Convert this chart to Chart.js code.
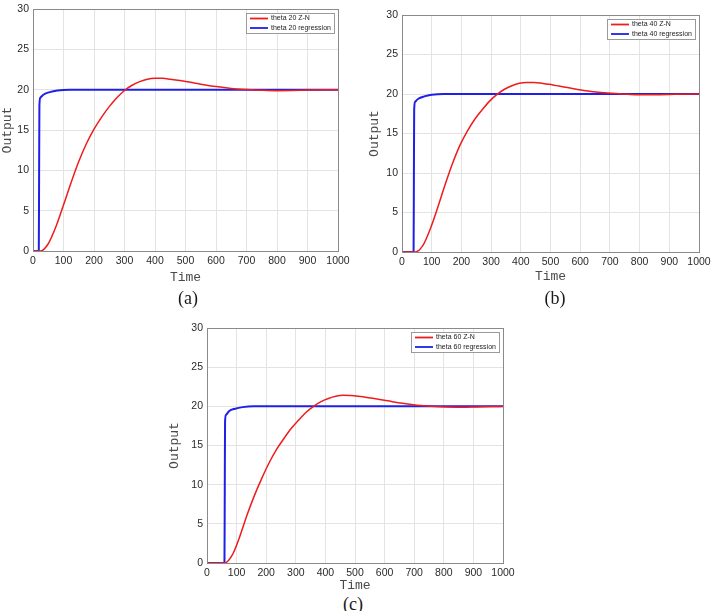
<!DOCTYPE html>
<html>
<head>
<meta charset="utf-8">
<script src="https://cdn.jsdelivr.net/npm/chart.js@4"></script>
<style>
  body { margin: 0; background: #fff; width: 714px; height: 611px; position: relative; overflow: hidden; }
  canvas { position: absolute; }
  .cap { position: absolute; font-family: "Liberation Serif", "Times New Roman", serif; font-size: 18px; line-height: 18px; color: #1a1a1a; transform: translate(-50%, -50%); }
</style>
</head>
<body>
<canvas id="chartA" width="354" height="285" style="left:0;top:0"></canvas>
<canvas id="chartB" width="354" height="284" style="left:360px;top:0"></canvas>
<canvas id="chartC" width="360" height="293" style="left:160px;top:300px"></canvas>
<div class="cap" style="left:188px;top:298px">(a)</div>
<div class="cap" style="left:555px;top:298px">(b)</div>
<div class="cap" style="left:353px;top:604px">(c)</div>
<script>
// tick labels
var xTicks = [0, 100, 200, 300, 400, 500, 600, 700, 800, 900, 1000]
var yTicks = [0, 5, 10, 15, 20, 25, 30]

// (a) theta 20
var timeZN20 = [0, 25, 50, 75, 100, 125, 150, 175, 200, 225, 250, 275, 300, 325, 350, 375, 400, 425, 450, 475, 500, 525, 550, 600, 650, 700, 750, 800, 850, 900, 1000]
var outZN20  = [0, 0, 0.9, 3.0, 5.7, 8.5, 11.1, 13.3, 15.1, 16.6, 17.9, 19.0, 19.9, 20.55, 21.0, 21.3, 21.4, 21.4, 21.3, 21.17, 21.02, 20.85, 20.68, 20.38, 20.15, 20.02, 19.93, 19.88, 19.9, 19.95, 20]
var timeReg20 = [0, 19, 20, 21, 24, 35, 55, 80, 120, 1000]
var outReg20  = [0, 0, 9, 18, 19.0, 19.4, 19.7, 19.9, 20, 20]

// (b) theta 40
var timeZN40 = [0, 45, 70, 95, 120, 145, 170, 195, 220, 245, 270, 295, 320, 345, 370, 395, 420, 445, 470, 495, 520, 545, 570, 620, 670, 720, 770, 820, 870, 920, 1000]
var outZN40  = [0, 0, 0.8, 2.9, 5.6, 8.5, 11.2, 13.5, 15.3, 16.8, 18.0, 19.1, 19.95, 20.6, 21.05, 21.35, 21.45, 21.45, 21.36, 21.22, 21.06, 20.9, 20.73, 20.42, 20.2, 20.05, 19.95, 19.9, 19.92, 19.96, 20]
var timeReg40 = [0, 39, 40, 41, 44, 55, 75, 100, 140, 1000]
var outReg40  = [0, 0, 9, 18, 19.0, 19.4, 19.7, 19.9, 20, 20]

// (c) theta 60
var timeZN60 = [0, 60, 85, 110, 135, 160, 185, 210, 235, 260, 285, 310, 335, 360, 385, 410, 435, 460, 485, 510, 535, 560, 610, 660, 710, 760, 810, 860, 910, 960, 1000]
var outZN60  = [0, 0, 1.0, 3.3, 6.1, 8.6, 10.8, 12.8, 14.5, 15.9, 17.2, 18.25, 19.25, 20.0, 20.6, 21.0, 21.28, 21.4, 21.38, 21.3, 21.17, 21.02, 20.7, 20.38, 20.15, 20.0, 19.9, 19.88, 19.92, 19.97, 20]
var timeReg60 = [0, 59, 60, 61, 64, 75, 95, 120, 160, 1000]
var outReg60  = [0, 0, 9, 18, 18.9, 19.4, 19.7, 19.9, 20, 20]

function pts(xs, ys) {
  return xs.map(function (x, i) { return {x: x, y: ys[i]} })
}

// box round the plot, like matlab "box on"
var framePlugin = {
  id: 'frame',
  afterDraw: function (chart) {
    var a = chart.chartArea, ctx = chart.ctx
    ctx.save()
    ctx.strokeStyle = '#8a8a8a'
    ctx.lineWidth = 1
    ctx.strokeRect(Math.round(a.left) + 0.5, Math.round(a.top) + 0.5, Math.round(a.right - a.left), Math.round(a.bottom - a.top))
    ctx.restore()
  }
}

// small legend box at top right inside the axes
var legendPlugin = {
  id: 'boxLegend',
  afterDraw: function (chart) {
    var a = chart.chartArea, ctx = chart.ctx
    var w = 88, h = 20
    var x0 = Math.round(a.right - 4 - w), y0 = Math.round(a.top + 4)
    ctx.save()
    ctx.fillStyle = '#fff'
    ctx.fillRect(x0, y0, w, h)
    ctx.strokeStyle = '#9a9a9a'
    ctx.lineWidth = 1
    ctx.strokeRect(x0 + 0.5, y0 + 0.5, w, h)
    ctx.font = '7px "Liberation Sans", Arial, sans-serif'
    ctx.textBaseline = 'middle'
    chart.data.datasets.forEach(function (ds, i) {
      var yy = y0 + 5.5 + i * 9.5
      ctx.strokeStyle = ds.borderColor
      ctx.lineWidth = 1.8
      ctx.beginPath()
      ctx.moveTo(x0 + 4, yy)
      ctx.lineTo(x0 + 22, yy)
      ctx.stroke()
      ctx.fillStyle = '#222'
      ctx.fillText(ds.label, x0 + 25, yy)
    })
    ctx.restore()
  }
}

var tickFont = {family: '"Liberation Sans", Arial, sans-serif', size: 10.5}
var titleFont = {family: '"Liberation Mono", "Courier New", monospace', size: 13}

function makeChart(id, theta, zn, reg, lay) {
  var ctx = document.getElementById(id).getContext('2d')
  return new Chart(ctx, {
    type: 'line',
    data: {
      datasets: [
        {label: 'theta ' + theta + ' Z-N', data: zn, borderColor: '#ee1c1c', borderWidth: 1.5, pointRadius: 0, cubicInterpolationMode: 'monotone'},
        {label: 'theta ' + theta + ' regression', data: reg, borderColor: '#1f1fe8', borderWidth: 2, pointRadius: 0, cubicInterpolationMode: 'monotone'}
      ]
    },
    options: {
      responsive: false,
      animation: false,
      layout: {padding: {left: 0, top: lay.top, right: lay.right, bottom: 0}},
      plugins: {legend: {display: false}, tooltip: {enabled: false}},
      scales: {
        x: {
          type: 'linear', min: 0, max: 1000,
          afterBuildTicks: function (s) { s.ticks = xTicks.map(function (v) { return {value: v} }) },
          afterFit: function (s) { s.height = lay.xh; s.paddingLeft = 0; s.paddingRight = 0 },
          grid: {color: '#e3e3e3', drawTicks: false},
          border: {display: false},
          ticks: {padding: 4, maxRotation: 0, color: '#2a2a2a', font: tickFont, callback: function (v) { return String(v) }},
          title: {display: true, text: 'Time', color: '#4a4a4a', padding: 0, font: titleFont}
        },
        y: {
          min: 0, max: 30,
          afterBuildTicks: function (s) { s.ticks = yTicks.map(function (v) { return {value: v} }) },
          afterFit: function (s) { s.width = lay.yw; s.paddingTop = 0; s.paddingBottom = 0 },
          grid: {color: '#e3e3e3', drawTicks: false},
          border: {display: false},
          ticks: {padding: 4, color: '#2a2a2a', font: tickFont, callback: function (v) { return String(v) }},
          title: {display: true, text: 'Output', color: '#4a4a4a', padding: {top: lay.yt, bottom: 0}, font: titleFont}
        }
      }
    },
    plugins: [framePlugin, legendPlugin]
  })
}

makeChart('chartA', 20, pts(timeZN20, outZN20), pts(timeReg20, outReg20), {top: 9, right: 16, yw: 33, xh: 34, yt: 0})
makeChart('chartB', 40, pts(timeZN40, outZN40), pts(timeReg40, outReg40), {top: 15, right: 15, yw: 42, xh: 32, yt: 7})
makeChart('chartC', 60, pts(timeZN60, outZN60), pts(timeReg60, outReg60), {top: 28, right: 17, yw: 47, xh: 30, yt: 7})
</script>
</body>
</html>
